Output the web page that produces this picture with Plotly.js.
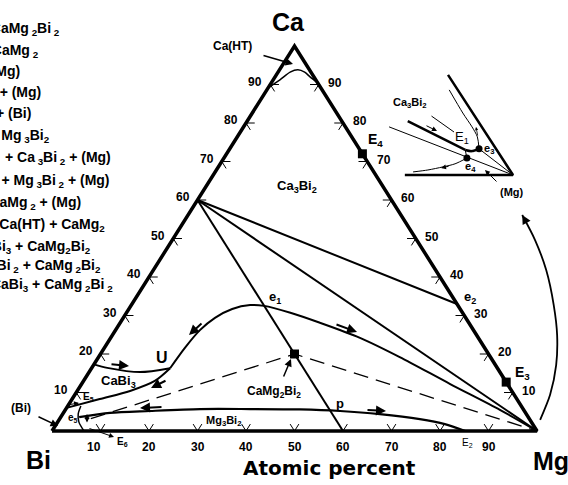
<!DOCTYPE html>
<html><head><meta charset="utf-8">
<script src="https://cdn.plot.ly/plotly-3.0.1.min.js"></script>
<style>html,body{margin:0;padding:0;background:#fff;}</style>
</head><body><div id="chart" style="width:568px;height:485px;"></div>
<script>
// ---- Data: compositions in at.% Ca and at.% Mg (Bi = balance) ----
const tickValues = [10,20,30,40,50,60,70,80,90];
const tickLabels = ['10','20','30','40','50','60','70','80','90'];
const triangleCa = [0, 0, 100, 0];
const triangleMg = [0, 100, 0, 0];
// Ca3Bi2 joins: to Mg3Bi2, to (Mg), to e2
const joinCa = [60, 0, null, 60, 0, null, 60, 33];
const joinMg = [0, 60, null, 0, 100, null, 0, 67];
// U - e1 - Mg monovariant curve
const e1CurveCa = [16.3, 21.6, 26.2, 29.4, 31.7, 32.7, 32.5, 30.7, 28.1, 24.2, 19.2, 12.2, 5.5, 0];
const e1CurveMg = [16.2, 16.6, 17.4, 18.9, 21.3, 24.5, 27.5, 33.8, 41.2, 51.4, 62.1, 76.0, 89.6, 100];
// CaBi3 upper boundary (binary edge -> U)
const uCurveCa = [17.3, 16.4, 15.3, 16.3];
const uCurveMg = [0, 3.2, 10.5, 16.2];
// CaBi3 lower boundary (E5 -> U)
const caBi3CurveCa = [6.0, 8.3, 10.4, 13.0, 16.3];
const caBi3CurveMg = [0, 5.7, 10.9, 14.7, 16.2];
// Mg3Bi2 / CaMg2Bi2 boundary (e5 side -> p -> E2)
const lowCurveCa = [3.6, 4.7, 5.2, 5.7, 5.7, 5.6, 5.2, 4.4, 3.1, 1.8, 0];
const lowCurveMg = [3.8, 9.6, 17.6, 27.7, 38.0, 48.3, 56.8, 65.4, 74.3, 80.1, 85.2];
// e5 curve
const e5CurveCa = [6.5, 4.4, 2.3, 0];
const e5CurveMg = [2.7, 3.2, 4.4, 6.6];
// Ca(HT) boundary
const caHTCa = [89.1, 91.2, 93.2, 93.8, 93.2, 92.0, 90.4];
const caHTMg = [0, 1.4, 2.5, 3.8, 5.5, 7.2, 9.6];
// dashed joins Bi - CaMg2Bi2 - Mg
const dashCa = [3.2, 20, 0];
const dashMg = [6.4, 40, 100];
// invariant / compound squares: CaMg2Bi2, E4, E3
const squareCa = [20, 72, 12.7];
const squareMg = [40, 28, 87.3];
// curved pointer arrow (Mg corner -> inset)
const arcCa = [2.9, 9.4, 17.1, 24.9, 32.7, 41.8, 49.6, 56.1];
const arcMg = [99.2, 98.0, 95.4, 91.7, 87.1, 81.0, 74.8, 68.9];
// ---- inset (magnified Mg corner) ----
const insetEdgeCa = [0, 0, 2.6];
const insetEdgeMg = [97.77, 100, 97.36];
const insetCa3Bi2Ca = [1.40, 0.65];
const insetCa3Bi2Mg = [97.13, 98.69];
const insetE1e3Ca = [0.65, 0.62, 0.68];
const insetE1e3Mg = [98.69, 98.84, 98.96];
const insetE3CurveCa = [2.21, 1.61, 1.25, 0.99, 0.68];
const insetE3CurveMg = [97.58, 98.16, 98.53, 98.77, 98.96];
const insetE1e4Ca = [0.65, 0.44];
const insetE1e4Mg = [98.69, 98.83];
const insetE4CurveCa = [0.44, 0.29, 0.21, 0.13, 0.08];
const insetE4CurveMg = [98.83, 98.66, 98.45, 98.18, 97.90];
const insetThinCa = [1.25, 0, null, 0.68, 0];
const insetThinMg = [96.82, 100, null, 98.96, 100];
const insetDotCa = [0.68, 0.44];
const insetDotMg = [98.96, 98.83];
// reaction list (left, partly outside the picture)
const reactionText = [
 'e<sub>1</sub>: L = Ca<sub>3</sub>Bi<sub>2</sub> + CaMg<sub> 2</sub>Bi<sub> 2</sub>',
 'e<sub>2</sub>: L = Ca<sub>3</sub>Bi<sub>2</sub> + CaMg<sub> 2</sub>',
 'e<sub>3</sub>: L = CaMg<sub>2</sub> + (Mg)',
 'e<sub>4</sub>: L = Ca<sub>3</sub>Bi<sub>2</sub>  + (Mg)',
 'e<sub>5</sub>: L = CaMg<sub>2</sub>Bi<sub>2</sub> + (Bi)',
 'p: L + CaMg<sub>2</sub>Bi<sub>2</sub> = Mg<sub> 3</sub>Bi<sub>2</sub>',
 'E<sub>1</sub>: L = CaMg<sub>2</sub>  + Ca<sub> 3</sub>Bi<sub> 2</sub> + (Mg)',
 'E<sub>2</sub>: L = CaMg<sub>2</sub>Bi<sub>2</sub>  + Mg<sub> 3</sub>Bi<sub> 2</sub> + (Mg)',
 'E<sub>3</sub>: L = Ca<sub>3</sub>Bi<sub>2</sub> + CaMg<sub> 2</sub> + (Mg)',
 'E<sub>4</sub>: L = Ca<sub>3</sub>Bi<sub>2</sub> + Ca(HT) + CaMg<sub>2</sub>',
 'E<sub>5</sub>: L = (Bi) + CaBi<sub>3</sub> + CaMg<sub>2</sub>Bi<sub>2</sub>',
 'U: L + CaBi<sub>3</sub> = Ca<sub>3</sub>Bi<sub> 2</sub> + CaMg<sub> 2</sub>Bi<sub>2</sub>',
 'E<sub>6</sub>: L = (Bi) + CaBi<sub>3</sub> + CaMg<sub> 2</sub>Bi<sub> 2</sub>'
];

// ---- layout constants ----
const W = 568, H = 485;
const F = 'Liberation Sans, Arial, sans-serif';
const black = '#000';

function toXY(ca, mg){
  return {x: ca.map((c,i)=> c===null ? null : mg[i] + c/2), y: ca.map(c=> c)};
}
function lineTrace(ca, mg, width, opts){
  opts = opts || {};
  const p = toXY(ca, mg);
  return {type:'scatter', mode:'lines', x:p.x, y:p.y,
    line:Object.assign({color:black, width:width}, opts.line||{}),
    xaxis: opts.inset ? 'x2':'x', yaxis: opts.inset ? 'y2':'y',
    hoverinfo:'skip', showlegend:false, connectgaps:false};
}

// tick marks built from tick values
const tickLen = 1.8;
const tCa = [], tMg = [];
tickValues.forEach(v=>{
  tCa.push(tickLen, 0, tickLen, null); tMg.push(v - tickLen, v, v, null);          // bottom (Mg)
  tCa.push(v, v, v - tickLen, null); tMg.push(tickLen, 0, tickLen, null);          // left (Ca)
  tCa.push(v, v, v - tickLen, null); tMg.push(100 - v - tickLen, 100 - v, 100 - v, null); // right (Ca)
});

const sp = {shape:'spline', smoothing:0.8};
const traces = [
  lineTrace(tCa, tMg, 1),
  lineTrace(triangleCa, triangleMg, 3.5),
  lineTrace(joinCa, joinMg, 2),
  lineTrace(dashCa, dashMg, 1.3, {line:{dash:'15px,8px'}}),
  lineTrace(e1CurveCa, e1CurveMg, 2, {line:sp}),
  lineTrace(uCurveCa, uCurveMg, 2, {line:sp}),
  lineTrace(caBi3CurveCa, caBi3CurveMg, 2, {line:sp}),
  lineTrace(lowCurveCa, lowCurveMg, 2.2, {line:sp}),
  lineTrace(e5CurveCa, e5CurveMg, 1.5, {line:sp}),
  lineTrace(caHTCa, caHTMg, 1.5, {line:sp}),
  lineTrace(arcCa, arcMg, 1.8, {line:sp}),
  (function(){ const p = toXY(squareCa, squareMg); return {type:'scatter', mode:'markers', x:p.x, y:p.y,
     marker:{symbol:'square', size:9, color:black}, hoverinfo:'skip', showlegend:false}; })(),
  // inset
  lineTrace(insetEdgeCa, insetEdgeMg, 2.5, {inset:true}),
  lineTrace(insetCa3Bi2Ca, insetCa3Bi2Mg, 2.5, {inset:true}),
  lineTrace(insetE1e3Ca, insetE1e3Mg, 2.5, {inset:true, line:sp}),
  lineTrace(insetE3CurveCa, insetE3CurveMg, 1, {inset:true, line:sp}),
  lineTrace(insetE1e4Ca, insetE1e4Mg, 1, {inset:true}),
  lineTrace(insetE4CurveCa, insetE4CurveMg, 1, {inset:true, line:sp}),
  lineTrace(insetThinCa, insetThinMg, 1, {inset:true}),
  (function(){ const p = toXY(insetDotCa, insetDotMg); return {type:'scatter', mode:'markers', x:p.x, y:p.y,
     xaxis:'x2', yaxis:'y2', marker:{symbol:'circle', size:7, color:black}, hoverinfo:'skip', showlegend:false}; })()
];

// ---- annotations ----
function lab(text, px, py, size, extra){
  return Object.assign({text:text, x:px/W, y:1-py/H, xref:'paper', yref:'paper', showarrow:false,
    xanchor:'center', yanchor:'middle', font:{family:F, size:size, color:black, weight:700}}, extra||{});
}
function arr(hx, hy, tx, ty, extra){
  return Object.assign({text:'', x:hx/W, y:1-hy/H, xref:'paper', yref:'paper', showarrow:true,
    ax:tx-hx, ay:ty-hy, arrowhead:2, arrowsize:1, arrowwidth:1.5, arrowcolor:black,
    standoff:0, startstandoff:0}, extra||{});
}
const ann = [];
// tick labels via data coordinates
tickValues.forEach((v,i)=>{
  const f = {family:F, size:12, color:black, weight:700};
  ann.push({text:tickLabels[i], x:v + (v===10 ? -1.35 : 0), y:0, xref:'x', yref:'y', yshift:-16, showarrow:false, font:f});
  ann.push({text:tickLabels[i], x:v/2, y:v, xref:'x', yref:'y', xshift:-15, yshift:3, showarrow:false, font:f});
  ann.push({text:tickLabels[i], x:100 - v/2, y:v, xref:'x', yref:'y', xshift:16.5, yshift:2, showarrow:false, font:f});
});
// corner and axis labels
ann.push(lab('Ca', 288, 22, 25));
ann.push(lab('Bi', 38, 460, 25));
ann.push(lab('Mg', 551, 461, 25));
ann.push(lab('Atomic percent', 329, 468, 20, {font:{family:'DejaVu Sans, sans-serif', size:20, color:black, weight:700}}));
// field / point labels
ann.push(lab('Ca(HT)', 232, 46, 12));
ann.push(arr(293, 64, 262, 55));
ann.push(lab('Ca<sub>3</sub>Bi<sub>2</sub>', 297, 187, 13));
ann.push(lab('E<sub>4</sub>', 375, 140, 14));
ann.push(lab('e<sub>1</sub>', 275, 297, 13));
ann.push(lab('e<sub>2</sub>', 470, 297, 13));
ann.push(lab('E<sub>3</sub>', 522, 373, 14));
ann.push(lab('U', 162, 357, 16));
ann.push(lab('CaBi<sub>3</sub>', 118, 381, 13));
ann.push(lab('E<sub>5</sub>', 88, 397, 10));
ann.push(lab('e<sub>5</sub>', 73, 418, 10));
ann.push(lab('(Bi)', 21, 408, 12));
ann.push(arr(58, 426, 37, 416));
ann.push(lab('E<sub>6</sub>', 122, 442, 10));
ann.push(arr(114, 437, 88, 428, {arrowwidth:1}));
ann.push(arr(79, 403, 67, 405, {arrowwidth:1}));
ann.push(arr(87, 414, 87, 424, {arrowwidth:1, arrowside:'end+start'}));
ann.push(lab('CaMg<sub>2</sub>Bi<sub>2</sub>', 274, 392, 12));
ann.push(arr(291, 359, 283, 378));
ann.push(lab('Mg<sub>3</sub>Bi<sub>2</sub>', 224, 421, 11));
ann.push(lab('p', 340, 403, 13));
ann.push(lab('E<sub>2</sub>', 467, 443, 10, {font:{family:F, size:10, color:black, weight:400}}));
// direction arrows on boundary curves
ann.push(arr(129, 366, 110, 364, {arrowwidth:2}));
ann.push(arr(151, 388, 167, 380, {arrowwidth:2}));
ann.push(arr(189, 335, 203, 322, {arrowwidth:2}));
ann.push(arr(357, 332, 335, 324, {arrowwidth:2}));
ann.push(arr(140, 408, 163, 407, {arrowwidth:2}));
ann.push(arr(386, 411, 366, 410, {arrowwidth:2}));
// big arc arrow head
ann.push({text:'', x:arcMg[arcMg.length-1] + arcCa[arcCa.length-1]/2, y:arcCa[arcCa.length-1], xref:'x', yref:'y',
  showarrow:true, ax:5, ay:9, arrowhead:2, arrowsize:1.2, arrowwidth:1.5, arrowcolor:black, standoff:0});
// inset labels
ann.push(lab('Ca<sub>3</sub>Bi<sub>2</sub>', 410, 103, 11));
ann.push(arr(454, 132, 430, 115, {arrowhead:0, arrowwidth:1}));
ann.push(lab('E<sub>1</sub>', 462, 137, 13, {font:{family:F, size:13, color:black, weight:400}}));
ann.push(lab('e<sub>3</sub>', 489, 149, 11));
ann.push(lab('e<sub>4</sub>', 470, 167, 11));
ann.push(lab('(Mg)', 512, 192, 11));
ann.push(arr(485, 170, 498, 183, {arrowwidth:1}));
ann.push(arr(437, 131, 425, 125, {arrowwidth:1}));
ann.push(arr(476, 127, 478, 137, {arrowwidth:0.8, arrowsize:0.8}));
ann.push(arr(441, 168, 450, 166, {arrowwidth:1}));
// reaction list
const reactionRight = [62, 41, 22, 43, 33, 52, 113, 112, 83, 107, 93, 103, 115];
const reactionY = [29, 51, 72, 93, 114, 136, 158, 181, 203, 225, 247, 266, 285];
reactionText.forEach((t,i)=>{
  ann.push(lab(t, reactionRight[i], reactionY[i], 14, {xanchor:'right', align:'right'}));
});

const layout = {
  width:W, height:H, margin:{l:0, r:0, t:0, b:0},
  paper_bgcolor:'#fff', plot_bgcolor:'rgba(0,0,0,0)', showlegend:false,
  xaxis:{range:[-10.7216, 106.3918], visible:false, fixedrange:true},
  yaxis:{range:[-14.026, 111.948], visible:false, fixedrange:true},
  xaxis2:{range:[89.423, 101.134], visible:false, overlaying:'x', anchor:'y2', fixedrange:true},
  yaxis2:{range:[-8.052, 4.545], visible:false, overlaying:'y', anchor:'x2', fixedrange:true},
  annotations: ann
};
Plotly.newPlot('chart', traces, layout, {staticPlot:true, displayModeBar:false});
</script>
</body></html>
